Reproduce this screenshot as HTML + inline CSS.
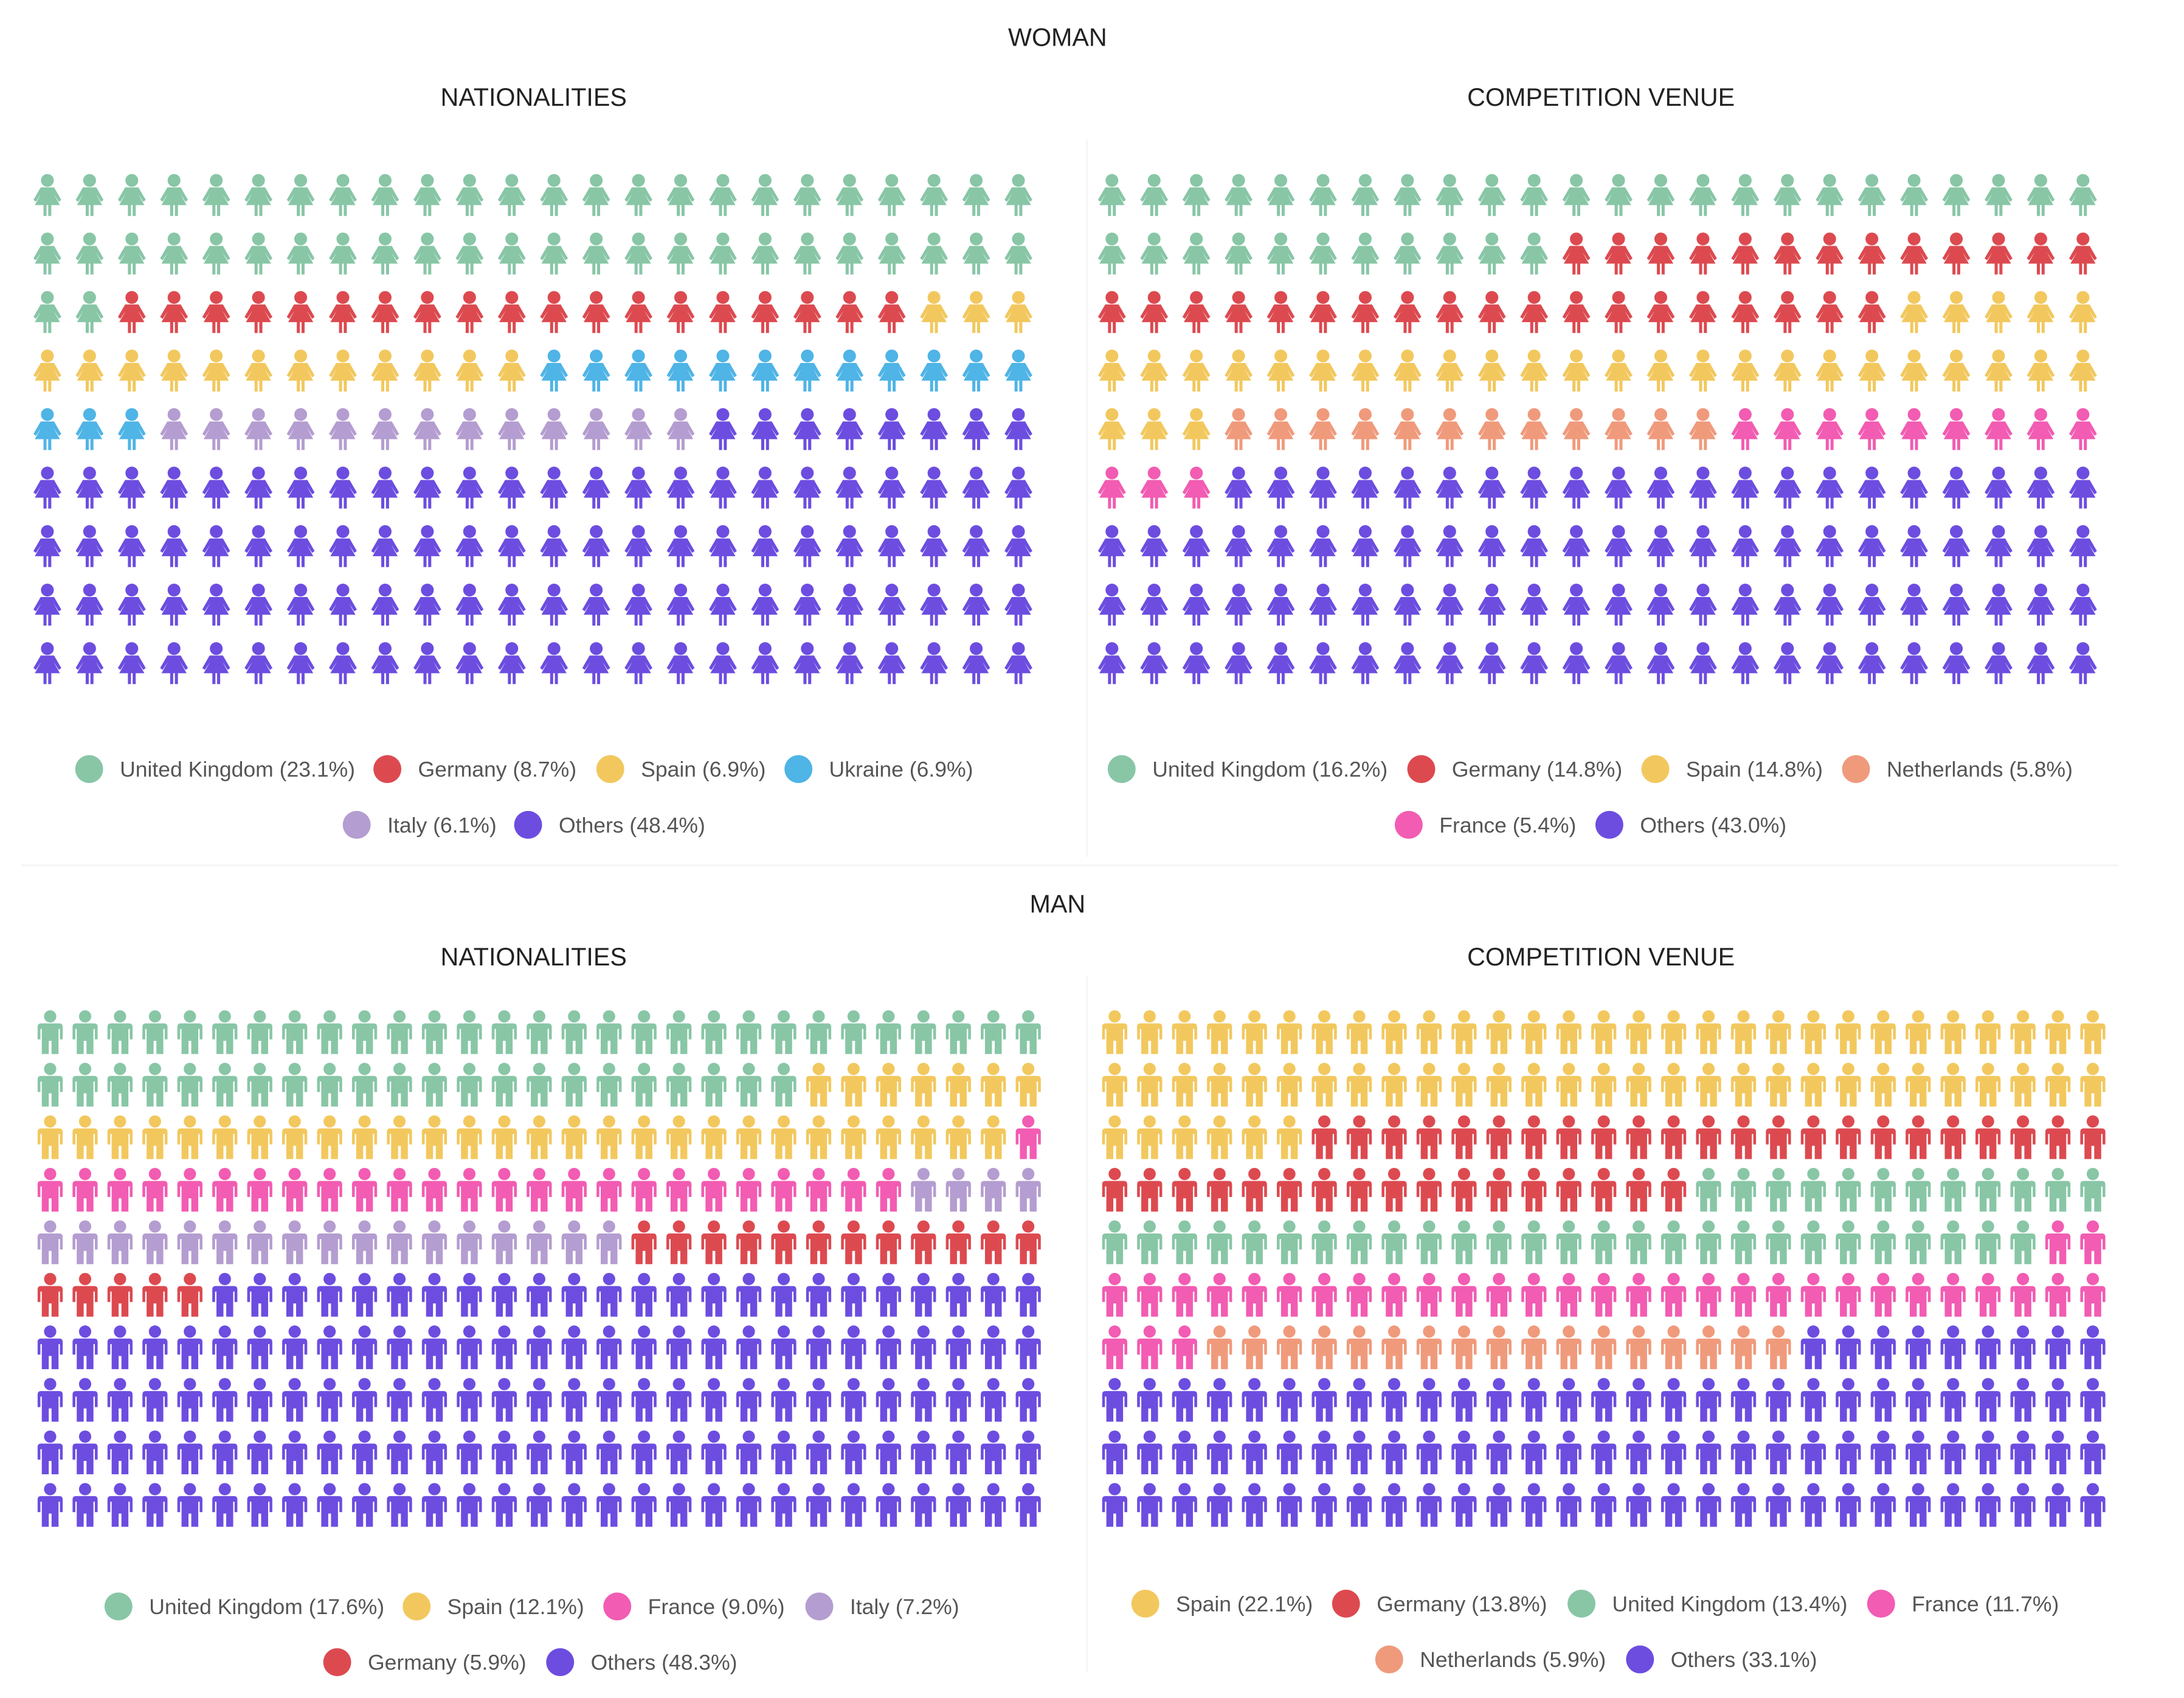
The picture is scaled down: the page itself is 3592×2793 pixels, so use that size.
<!DOCTYPE html>
<html><head><meta charset="utf-8"><style>
html,body{margin:0;padding:0;background:#fff;}
svg{display:block;font-family:"Liberation Sans",sans-serif;}
</style></head><body>
<svg id="chart" width="3592" height="2793" viewBox="0 0 1567.4 1218.7" preserveAspectRatio="none" xmlns="http://www.w3.org/2000/svg">
<defs>
<g id="woman">
<circle cx="0" cy="-10.5" r="4.6"/>
<path d="M-4.8,-5.5 L4.8,-5.5 L10,3.5 L8.2,4.8 L4.4,-1 L9,7.2 L2.8,7.2 L2.8,15 L0.6,15 L0.6,7.2 L-0.6,7.2 L-0.6,15 L-2.8,15 L-2.8,7.2 L-9,7.2 L-4.4,-1 L-8.2,4.8 L-10,3.5 Z"/>
</g>
<g id="man">
<circle cx="0" cy="-11.5" r="4.4"/>
<path d="M-6.5,-6.5 L6.5,-6.5 Q9,-6.5 9,-4 L9,5 L7,5 L7,-2.5 L6,-2.5 L6,15.5 L1,15.5 L1,6 L-1,6 L-1,15.5 L-6,15.5 L-6,-2.5 L-7,-2.5 L-7,5 L-9,5 L-9,-4 Q-9,-6.5 -6.5,-6.5 Z"/>
</g>
</defs>
<line x1="780" y1="100" x2="780" y2="615" stroke="#f3f3f3" stroke-width="1"/>
<line x1="15" y1="621" x2="1520" y2="621" stroke="#f3f3f3" stroke-width="1"/>
<line x1="780" y1="700" x2="780" y2="1200" stroke="#f3f3f3" stroke-width="1"/>
<text x="759" y="33" text-anchor="middle" font-size="18" fill="#222">WOMAN</text>
<text x="383" y="76" text-anchor="middle" font-size="18" fill="#222">NATIONALITIES</text>
<text x="1149" y="76" text-anchor="middle" font-size="18" fill="#222">COMPETITION VENUE</text>
<text x="759" y="655" text-anchor="middle" font-size="18" fill="#222">MAN</text>
<text x="383" y="693" text-anchor="middle" font-size="18" fill="#222">NATIONALITIES</text>
<text x="1149" y="693" text-anchor="middle" font-size="18" fill="#222">COMPETITION VENUE</text>
<g id="panels"></g>
</svg>
<script>
const C = {uk:"#88c6a6", de:"#dc4a50", es:"#f2c85e", ua:"#4fb4e6", it:"#b49dd0", ot:"#6c4de0", nl:"#f09a7c", fr:"#f25cb2"};

const wNatKeys = ["uk","de","es","ua","it","ot"];
const wNatNames = ["United Kingdom","Germany","Spain","Ukraine","Italy","Others"];
const wNatPct = [23.1,8.7,6.9,6.9,6.1,48.4];
const wNatCounts = [50,19,15,15,13,104];

const wVenKeys = ["uk","de","es","nl","fr","ot"];
const wVenNames = ["United Kingdom","Germany","Spain","Netherlands","France","Others"];
const wVenPct = [16.2,14.8,14.8,5.8,5.4,43.0];
const wVenCounts = [35,32,32,12,12,93];

const mNatKeys = ["uk","es","fr","it","de","ot"];
const mNatNames = ["United Kingdom","Spain","France","Italy","Germany","Others"];
const mNatPct = [17.6,12.1,9.0,7.2,5.9,48.3];
const mNatCounts = [51,35,26,21,17,140];

const mVenKeys = ["es","de","uk","fr","nl","ot"];
const mVenNames = ["Spain","Germany","United Kingdom","France","Netherlands","Others"];
const mVenPct = [22.1,13.8,13.4,11.7,5.9,33.1];
const mVenCounts = [64,40,39,34,17,96];

const NS = "http://www.w3.org/2000/svg";
const root = document.getElementById("panels");

function drawPanel(id, icon, keys, names, pct, counts, grid, legend){
  const g = document.createElementNS(NS,"g");
  
  
  root.appendChild(g);
  const xs = c => grid.x0 + c*grid.dx;
  const ys = r => grid.y0 + r*grid.dy;
  let idx = 0;
  keys.forEach((k,ci)=>{
    for(let i=0;i<counts[ci];i++){
      const col = idx % grid.cols, row = Math.floor(idx/grid.cols);
      const u = document.createElementNS(NS,"use");
      u.setAttribute("href","#"+icon);
      u.setAttribute("transform",`translate(${xs(col)},${ys(row)}) scale(${grid.s})`);
      u.setAttribute("fill",C[k]);
      
      
      g.appendChild(u);
      idx++;
    }
  });
  legend.forEach((pos,i)=>{
    const lg = document.createElementNS(NS,"g");
    
    
    const c = document.createElementNS(NS,"circle");
    c.setAttribute("cx",pos[0]); c.setAttribute("cy",pos[1]); c.setAttribute("r",10);
    c.setAttribute("fill",C[keys[i]]);
    const t = document.createElementNS(NS,"text");
    t.setAttribute("x",pos[0]+22); t.setAttribute("y",pos[1]+5.5);
    t.setAttribute("font-size","15.5"); t.setAttribute("fill","#555");
    t.textContent = names[i] + " (" + pct[i].toFixed(1) + "%)";
    lg.appendChild(c); lg.appendChild(t); g.appendChild(lg);
  });
}

drawPanel("woman-nationalities","woman",wNatKeys,wNatNames,wNatPct,wNatCounts,
  {x0:34,dx:30.3,y0:140,dy:42,cols:24,s:1},
  [[64,552],[278,552],[438,552],[573,552],[256,592],[379,592]]);
drawPanel("woman-venue","woman",wVenKeys,wVenNames,wVenPct,wVenCounts,
  {x0:798,dx:30.3,y0:140,dy:42,cols:24,s:1},
  [[805,552],[1020,552],[1188,552],[1332,552],[1011,592],[1155,592]]);
drawPanel("man-nationalities","man",mNatKeys,mNatNames,mNatPct,mNatCounts,
  {x0:36,dx:25.07,y0:741,dy:37.7,cols:29,s:1.0},
  [[85,1153],[299,1153],[443,1153],[588,1153],[242,1193],[402,1193]]);
drawPanel("man-venue","man",mVenKeys,mVenNames,mVenPct,mVenCounts,
  {x0:800,dx:25.07,y0:741,dy:37.7,cols:29,s:1.0},
  [[822,1151],[966,1151],[1135,1151],[1350,1151],[997,1191],[1177,1191]]);
</script>
</body></html>
